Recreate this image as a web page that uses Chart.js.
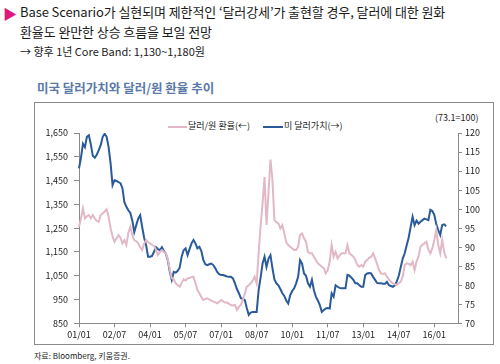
<!DOCTYPE html>
<html><head><meta charset="utf-8">
<script src="https://cdn.jsdelivr.net/npm/chart.js@4/dist/chart.umd.min.js"></script>
<style>
html,body{margin:0;padding:0;background:#fff;}
body{width:500px;height:364px;position:relative;overflow:hidden;font-family:"Noto Sans CJK KR","Noto Sans",sans-serif;}
.t{position:absolute;white-space:nowrap;line-height:1;}
#box{position:absolute;left:34px;top:102px;width:460px;height:243px;border:1px solid #8a8a8a;box-sizing:border-box;}
#c{position:absolute;left:0;top:0;}
.lg{position:absolute;height:0;border-top:2px solid;}
</style></head>
<body>
<div class="t" style="left:3px;top:6px;font-size:14px;color:#e0177e;">&#9654;</div>
<div class="t" style="left:20px;top:5px;font-size:13px;color:#1a1a1a;letter-spacing:-0.1px;">Base Scenario가 실현되며 제한적인 ‘달러강세’가 출현할 경우, 달러에 대한 원화</div>
<div class="t" style="left:20px;top:25px;font-size:13px;color:#1a1a1a;letter-spacing:-0.1px;">환율도 완만한 상승 흐름을 보일 전망</div>
<div class="t" style="left:20px;top:46px;font-size:11px;color:#222;">→ 향후 1년 Core Band: 1,130~1,180원</div>
<div id="box"></div>
<div class="t" style="left:37px;top:82px;font-size:12.5px;font-weight:bold;color:#5a7aa8;">미국 달러가치와 달러/원 환율 추이</div>
<div class="lg" style="left:168px;top:126px;width:19px;border-color:#e2b8c8;"></div>
<div class="t" style="left:188px;top:121px;font-size:9px;color:#222;">달러/원 환율(←)</div>
<div class="lg" style="left:263px;top:126px;width:20px;border-color:#2a5a9a;"></div>
<div class="t" style="left:284px;top:121px;font-size:9px;color:#222;">미 달러가치(→)</div>
<div class="t" style="left:435px;top:113px;font-size:9px;color:#222;">(73.1=100)</div>
<div class="t" style="left:34px;top:352px;font-size:8px;color:#222;">자료: Bloomberg, 키움증권.</div>
<canvas id="c" width="500" height="364"></canvas>
<script>
// monthly labels 2001/01 .. 2017/01
const monthLabels = [];
for (let y = 1; y <= 17; y++) {
  for (let m = 1; m <= 12; m++) {
    if (y === 17 && m > 1) break;
    monthLabels.push(String(y).padStart(2,'0') + '/' + String(m).padStart(2,'0'));
  }
}
// 달러/원 환율 (left axis), 2001/01 ~ 2016/07
const krwUsd = [
1256,1290,1333,1291,1300,1305,1291,1305,1291,1280,1277,1305,
1312,1320,1329,1298,1250,1215,1193,1207,1221,1210,1186,1200,
1179,1230,1256,1221,1200,1195,1186,1170,1158,1185,1200,1192,
1186,1180,1175,1160,1137,1150,1158,1150,1144,1120,1075,1040,
1035,1018,1010,1004,1020,1035,1030,1039,1040,1044,1046,1018,
990,976,960,948,952,955,950,945,941,938,934,940,
948,942,937,937,932,927,925,927,906,920,927,948,
975,1004,1010,1018,1030,1046,1018,1144,1260,1354,1465,1263,
1400,1538,1452,1284,1275,1270,1249,1263,1228,1190,1179,1172,
1165,1158,1158,1172,1221,1228,1207,1193,1150,1144,1144,1130,
1116,1102,1095,1088,1081,1060,1074,1110,1179,1130,1151,1123,
1135,1144,1144,1144,1179,1144,1137,1130,1116,1095,1088,1095,
1088,1109,1116,1125,1130,1144,1123,1100,1074,1060,1057,1060,
1046,1035,1025,1018,1015,1011,1018,1025,1046,1095,1102,1100,
1095,1109,1074,1110,1130,1172,1180,1186,1193,1160,1144,1165,
1200,1242,1179,1144,1200,1151,1123
];
// 미 달러가치 (right axis, 73.1=100)
const dollarIndex = [
110.7,113.5,117.2,116.3,119.0,119.4,117.0,114.0,113.5,114.3,115.5,116.8,
119.0,119.8,119.0,116.3,112.0,106.3,107.6,107.4,107.1,106.8,105.5,101.8,
100.6,99.7,99.0,97.0,94.0,95.8,97.5,98.4,95.3,92.5,90.5,87.5,
87.5,87.7,88.8,90.0,89.5,89.2,90.0,89.0,88.3,86.6,83.5,81.4,
83.5,83.3,83.8,84.6,87.5,89.2,89.7,87.9,89.5,91.0,91.9,91.0,
89.7,90.1,89.0,86.6,85.5,85.3,85.5,85.7,85.3,84.5,83.5,82.9,
82.7,82.7,82.5,82.3,82.2,82.2,81.8,80.5,79.0,77.9,76.6,76.4,
76.1,74.0,72.2,72.8,73.0,73.0,73.0,78.7,82.0,85.7,87.5,84.8,
87.0,87.9,84.5,81.5,80.5,80.0,79.0,77.9,77.2,76.0,75.2,77.4,
78.5,79.2,80.5,82.2,86.6,85.7,83.1,82.5,80.5,79.6,81.4,78.7,
77.0,76.0,74.8,73.0,73.5,73.9,74.0,73.9,77.9,77.0,80.0,79.6,
79.3,79.2,79.2,79.2,82.7,82.5,82.0,81.4,80.5,80.5,80.0,79.6,
79.6,82.7,83.1,83.2,83.1,82.2,81.4,80.6,80.5,80.5,80.4,80.4,
80.9,80.0,79.8,79.6,80.0,81.0,82.5,84.8,87.0,88.4,90.5,92.5,
95.3,98.0,95.8,97.0,96.2,96.7,97.1,97.5,97.3,97.1,99.8,99.5,
98.5,96.0,94.5,93.2,95.8,96.0,95.5
];
const tickFont = {family:'"Noto Sans CJK KR","Noto Sans",sans-serif', size:9};
const axisColor = '#8a8a8a';
new Chart(document.getElementById('c'), {
  type:'line',
  data:{
    labels: monthLabels,
    datasets:[
      {label:'달러/원 환율(←)', data:krwUsd, yAxisID:'yL', borderColor:'#e2b8c8', borderWidth:2, pointRadius:0, tension:0},
      {label:'미 달러가치(→)', data:dollarIndex, yAxisID:'yR', borderColor:'#2a5a9a', borderWidth:2, pointRadius:0, tension:0}
    ]
  },
  options:{
    responsive:false, animation:false,
    layout:{padding:{left:0,right:0,top:133,bottom:0}},
    plugins:{legend:{display:false}, tooltip:{enabled:false}},
    scales:{
      x:{
        offset:false,
        grid:{drawOnChartArea:false, drawTicks:true, tickLength:4, color:axisColor},
        border:{display:true, color:axisColor, width:1},
        ticks:{autoSkip:false, maxRotation:0, minRotation:0, padding:2, color:'#222', font:tickFont,
          callback:function(v, i){ return (i % 18 === 0 && i < 190) ? monthLabels[i] : null; }},
        afterFit:function(s){ s.height = 40.7; }
      },
      yL:{
        position:'left', min:850, max:1650,
        grid:{drawOnChartArea:false, drawTicks:true, tickLength:5, color:axisColor},
        border:{display:true, color:axisColor, width:1},
        ticks:{stepSize:100, padding:6, color:'#222', font:tickFont,
          callback:function(v){ return v.toLocaleString('en-US'); }},
        afterFit:function(s){ s.width = 79; }
      },
      yR:{
        position:'right', min:70, max:120,
        grid:{drawOnChartArea:false, drawTicks:true, tickLength:4, color:axisColor},
        border:{display:true, color:axisColor, width:1},
        ticks:{stepSize:5, padding:3, color:'#222', font:tickFont},
        afterFit:function(s){ s.width = 42; }
      }
    }
  }
});
</script>
</body></html>
